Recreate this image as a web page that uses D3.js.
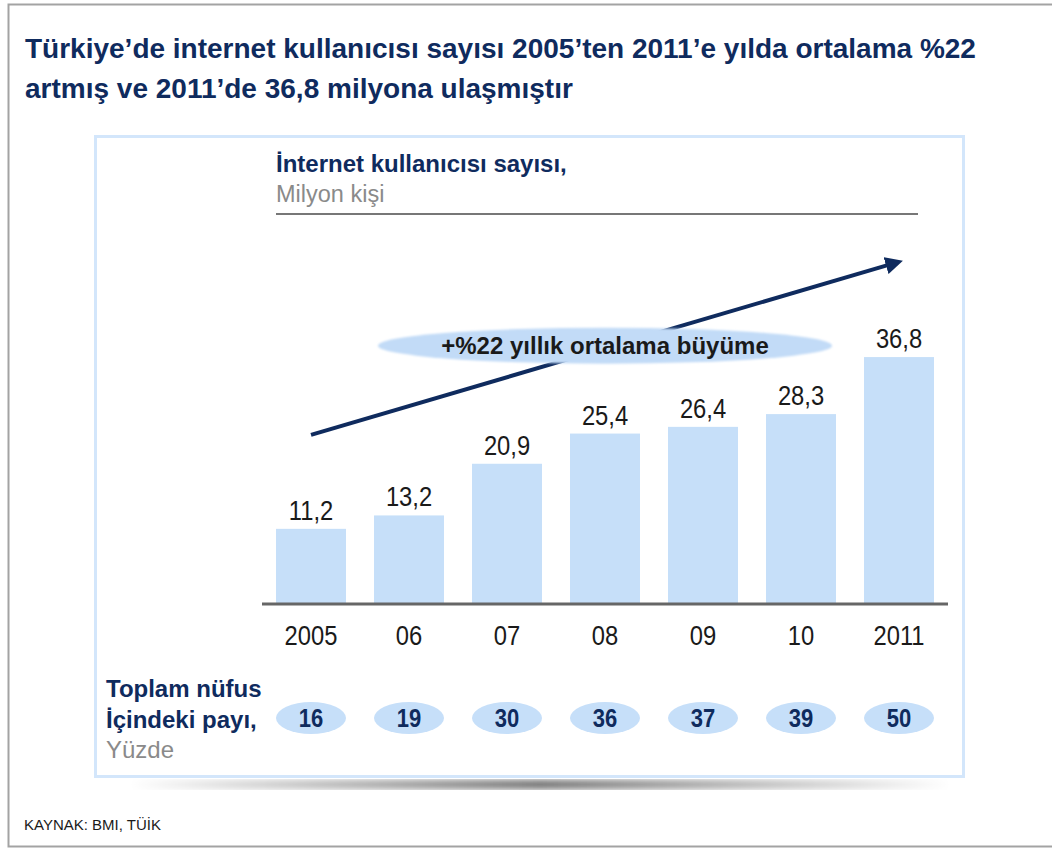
<!DOCTYPE html>
<html>
<head>
<meta charset="utf-8">
<script src="https://cdn.jsdelivr.net/npm/d3@7"></script>
<style>
  html, body { margin: 0; padding: 0; background: #fff; }
  svg { display: block; }
  .sans { font-family: "Liberation Sans", Arial, Helvetica, sans-serif; }
</style>
</head>
<body>
<svg id="chart" width="1052" height="848"></svg>
<script>
// Internet users in Turkey, millions
const years = ["2005", "06", "07", "08", "09", "10", "2011"];
const users = [11.2, 13.2, 20.9, 25.4, 26.4, 28.3, 36.8];
const userLabels = ["11,2", "13,2", "20,9", "25,4", "26,4", "28,3", "36,8"];
// Share of total population, percent
const share = [16, 19, 30, 36, 37, 39, 50];

const titleLines = [
  "Türkiye’de internet kullanıcısı sayısı 2005’ten 2011’e yılda ortalama %22",
  "artmış ve 2011’de 36,8 milyona ulaşmıştır"
];
const growthLabel = "+%22 yıllık ortalama büyüme";
const sideLabels = ["Toplam nüfus", "İçindeki payı,", "Yüzde"];
const source = "KAYNAK: BMI, TÜİK";

const NAVY = "#0f2b5e";
const BAR = "#c6dff9";
const CONDENSE = 0.88;   // horizontal squeeze for the numeric labels

const svg = d3.select("#chart");
const defs = svg.append("defs");

// soft shadow under the panel
const sg = defs.append("linearGradient").attr("id", "shadowGrad").attr("x1", 0).attr("x2", 1);
sg.append("stop").attr("offset", "0%").attr("stop-color", "#fff");
sg.append("stop").attr("offset", "50%").attr("stop-color", "#6f6f6f");
sg.append("stop").attr("offset", "100%").attr("stop-color", "#fff");
defs.append("filter").attr("id", "blur3").append("feGaussianBlur").attr("stdDeviation", 3);
defs.append("filter").attr("id", "blur1").append("feGaussianBlur").attr("stdDeviation", 1.2);

// outer frame
svg.append("path")
  .attr("d", "M1060,4.5 H8.5 V846.5 H1060")
  .attr("fill", "none").attr("stroke", "#a3a3a3").attr("stroke-width", 2);

// title
const title = svg.append("text").attr("class", "sans")
  .attr("font-size", 28).attr("font-weight", "bold").attr("fill", NAVY);
titleLines.forEach((t, i) => {
  title.append("tspan").attr("x", 25).attr("y", 58 + i * 40).text(t);
});

// panel shadow + panel
svg.append("rect")
  .attr("x", 130).attr("y", 780).attr("width", 820).attr("height", 9)
  .attr("fill", "url(#shadowGrad)").attr("filter", "url(#blur3)");
svg.append("rect")
  .attr("x", 95.5).attr("y", 136.5).attr("width", 868).attr("height", 640)
  .attr("fill", "#fff").attr("stroke", "#d3e6fb").attr("stroke-width", 3);

// chart heading
svg.append("text").attr("class", "sans")
  .attr("x", 276).attr("y", 172).attr("font-size", 24).attr("font-weight", "bold")
  .attr("fill", NAVY).text("İnternet kullanıcısı sayısı,");
svg.append("text").attr("class", "sans")
  .attr("x", 276).attr("y", 202).attr("font-size", 23.5)
  .attr("fill", "#8a8a8a").text("Milyon kişi");
svg.append("line")
  .attr("x1", 276).attr("x2", 918).attr("y1", 214).attr("y2", 214)
  .attr("stroke", "#4a4a4a").attr("stroke-width", 1.5);

// scales
const x = d3.scaleBand().domain(years).range([262, 948])
  .paddingInner(0.286).paddingOuter(0.143);
const y = d3.scaleLinear().domain([0, 40]).range([604, 335.6]);
const cx = k => x(k) + x.bandwidth() / 2;

// growth arrow (drawn under the oval label)
const arrowFrom = { year: "2005", value: 25.2 };
const arrowTo = { year: "2011", value: 51 };
const ax1 = cx(arrowFrom.year), ay1 = y(arrowFrom.value);
const ax2 = cx(arrowTo.year), ay2 = y(arrowTo.value);
defs.append("marker").attr("id", "head")
  .attr("viewBox", "0 0 10 10").attr("refX", 2).attr("refY", 5)
  .attr("markerWidth", 4.4).attr("markerHeight", 4.4).attr("orient", "auto")
  .append("path").attr("d", "M0,0 L10,5 L0,10 Z").attr("fill", NAVY);
const ang = Math.atan2(ay2 - ay1, ax2 - ax1);
svg.append("line")
  .attr("x1", ax1).attr("y1", ay1)
  .attr("x2", ax2 - 10 * Math.cos(ang)).attr("y2", ay2 - 10 * Math.sin(ang))
  .attr("stroke", NAVY).attr("stroke-width", 4)
  .attr("marker-end", "url(#head)");

// growth oval
const growthCenter = { year: "08", value: 38.5 };
const gcx = cx(growthCenter.year);
const gcy = y(growthCenter.value);
svg.append("ellipse")
  .attr("cx", gcx).attr("cy", gcy).attr("rx", 227).attr("ry", 18)
  .attr("fill", "#c2dbf7").attr("filter", "url(#blur1)");
svg.append("text").attr("class", "sans")
  .attr("x", gcx).attr("y", gcy + 8.5).attr("text-anchor", "middle")
  .attr("font-size", 24).attr("font-weight", "bold").attr("fill", "#1a1a1a")
  .text(growthLabel);

// bars
svg.append("g").selectAll("rect").data(users).join("rect")
  .attr("x", (d, i) => x(years[i]))
  .attr("y", d => y(d))
  .attr("width", x.bandwidth())
  .attr("height", d => y(0) - y(d))
  .attr("fill", BAR);

// value labels
svg.append("g").selectAll("g").data(users).join("g")
  .attr("transform", (d, i) => `translate(${cx(years[i])},${y(d) - 9}) scale(${CONDENSE},1)`)
  .append("text").attr("class", "sans")
  .attr("text-anchor", "middle").attr("font-size", 27).attr("fill", "#1a1a1a")
  .text((d, i) => userLabels[i]);

// baseline
svg.append("line")
  .attr("x1", 262).attr("x2", 948).attr("y1", y(0) + 1).attr("y2", y(0) + 1)
  .attr("stroke", "#b5b5b5").attr("stroke-width", 5).attr("filter", "url(#blur1)");
svg.append("line")
  .attr("x1", 262).attr("x2", 948).attr("y1", y(0)).attr("y2", y(0))
  .attr("stroke", "#666").attr("stroke-width", 3);

// year axis
const xAxis = d3.axisBottom(x).tickSize(0).tickPadding(22);
const gx = svg.append("g").attr("transform", `translate(0,${y(0)})`).call(xAxis);
gx.select(".domain").remove();
gx.selectAll("text").attr("class", "sans")
  .attr("font-family", null).attr("font-size", 27).attr("fill", "#1a1a1a")
  .attr("transform", `scale(${CONDENSE},1)`);

// population share row
const side = svg.append("g").attr("class", "sans");
side.append("text").attr("x", 106).attr("y", 697).attr("font-size", 24)
  .attr("font-weight", "bold").attr("fill", NAVY).text(sideLabels[0]);
side.append("text").attr("x", 106).attr("y", 728).attr("font-size", 24)
  .attr("font-weight", "bold").attr("fill", NAVY).text(sideLabels[1]);
side.append("text").attr("x", 106).attr("y", 758).attr("font-size", 24)
  .attr("fill", "#8a8a8a").text(sideLabels[2]);

const pills = svg.append("g").selectAll("g").data(share).join("g")
  .attr("transform", (d, i) => `translate(${cx(years[i])},718)`);
pills.append("ellipse").attr("rx", 35).attr("ry", 16).attr("fill", BAR);
pills.append("text").attr("class", "sans")
  .attr("y", 9).attr("text-anchor", "middle").attr("font-size", 25)
  .attr("font-weight", "bold").attr("fill", NAVY)
  .attr("transform", `scale(${CONDENSE},1)`).text(d => d);

// source
svg.append("text").attr("class", "sans")
  .attr("x", 24).attr("y", 830).attr("font-size", 15).attr("fill", "#1a1a1a")
  .text(source);
</script>
</body>
</html>
